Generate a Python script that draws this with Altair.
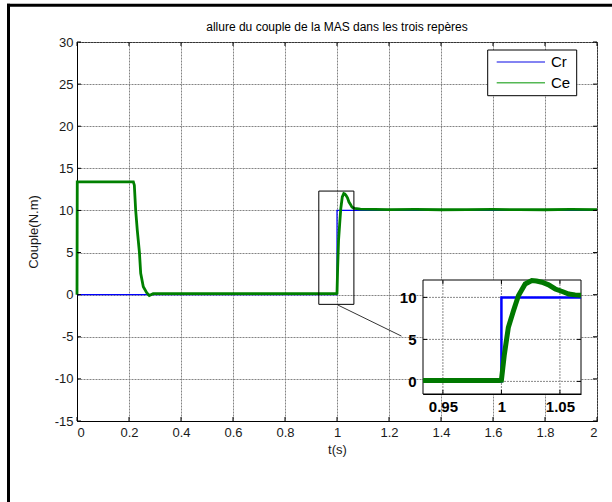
import altair as alt
import pandas as pd

# ---------------- data ----------------
t_cr = [0.0, 0.933, 1.0, 1.0, 1.068, 2.0]
v_cr = [0.0, 0.0, 0.0, 10.0, 10.0, 10.0]

t_ce = [0.0, 0.001, 0.1, 0.2167, 0.2205, 0.2256, 0.232, 0.24, 0.245, 0.255,
        0.268, 0.278, 0.293, 0.5, 0.8, 0.933, 0.998, 1.0, 1.0025, 1.0059,
        1.0103, 1.0145, 1.0203, 1.026, 1.030, 1.0346, 1.0403, 1.046, 1.052,
        1.0575, 1.063, 1.068, 1.09, 1.2, 1.3, 1.4, 1.5, 1.6, 1.7, 1.8, 1.9, 2.0]
v_ce = [0.0, 13.4, 13.4, 13.4, 13.0, 10.05, 7.6, 5.06, 2.53, 0.94,
        0.23, -0.1, 0.12, 0.12, 0.12, 0.12, 0.12, 0.15, 3.2, 6.4,
        8.4, 10.2, 11.6, 12.0, 11.95, 11.8, 11.5, 11.0, 10.7,
        10.4, 10.3, 10.25, 10.15, 10.1, 10.12, 10.08, 10.1, 10.12, 10.1, 10.08, 10.12, 10.1]

x_ticks = [0, 0.2, 0.4, 0.6, 0.8, 1.0, 1.2, 1.4, 1.6, 1.8, 2.0]
y_ticks = [-15, -10, -5, 0, 5, 10, 15, 20, 25, 30]
x_domain = [0, 2]
y_domain = [-15, 30]

inset_x_ticks = [0.95, 1.0, 1.05]
inset_y_ticks = [0, 5, 10]
inset_t = [0.933, 1.068]
inset_v = [-1.5, 12.07]

zoom_box_t = [0.93, 1.065]
zoom_box_v = [-1.15, 12.3]
connector_t = [1.004, 1.248]
connector_v = [-1.24, -4.92]

series_names = ["Cr", "Ce"]
legend_colors = ["#5a5aee", "#55b855"]

title_text = "allure du couple de la MAS dans les trois repères"
x_title = "t(s)"
y_title = "Couple(N.m)"

FONT = "Liberation Sans"
LABEL_EXPR = "toString(datum.value)"
W, H = 520, 379
IN_X0, IN_X1, IN_Y0, IN_Y1 = 346, 504, 352, 238   # inset pixel box inside the plot

# ---------------- tables ----------------
cr = pd.DataFrame({"t": t_cr, "v": v_cr, "i": range(len(t_cr))})
ce = pd.DataFrame({"t": t_ce, "v": v_ce, "i": range(len(t_ce))})
zoom_box = pd.DataFrame({"t": [zoom_box_t[0]], "t2": [zoom_box_t[1]],
                         "v": [zoom_box_v[0]], "v2": [zoom_box_v[1]]})
connector = pd.DataFrame({"t": connector_t, "v": connector_v})
inset_box = pd.DataFrame({"t": [inset_t[0]], "t2": [inset_t[1]],
                          "v": [inset_v[0]], "v2": [inset_v[1]]})
inset_vgrid = pd.DataFrame({"t": inset_x_ticks, "v": [inset_v[0]] * len(inset_x_ticks),
                            "v2": [inset_v[1]] * len(inset_x_ticks)})
inset_hgrid = pd.DataFrame({"v": inset_y_ticks, "t": [inset_t[0]] * len(inset_y_ticks),
                            "t2": [inset_t[1]] * len(inset_y_ticks)})
xt = pd.DataFrame({"t": x_ticks})
yt = pd.DataFrame({"v": y_ticks})
ixt = pd.DataFrame({"t": inset_x_ticks})
iyt = pd.DataFrame({"v": inset_y_ticks})
one = pd.DataFrame({"a": [0]})

# ---------------- main panel ----------------
main_x_axis = alt.Axis(values=x_ticks, labelExpr=LABEL_EXPR, title=x_title, grid=True,
                       orient="bottom", labelPadding=5, titlePadding=4)
main_y_axis = alt.Axis(values=y_ticks, labelExpr=LABEL_EXPR, title=y_title, grid=True,
                       orient="left", labelPadding=4, titlePadding=14)


def MX(field="t"):
    return alt.X(f"{field}:Q", scale=alt.Scale(domain=x_domain, nice=False, zero=False),
                 axis=main_x_axis)


def MY(field="v"):
    return alt.Y(f"{field}:Q", scale=alt.Scale(domain=y_domain, nice=False, zero=False),
                 axis=main_y_axis)


main_cr = alt.Chart(cr).mark_line(color="#0000ff", strokeWidth=1.2).encode(
    x=MX(), y=MY(), order="i:Q")
main_ce = alt.Chart(ce).mark_line(color="#008000", strokeWidth=2.8).encode(
    x=MX(), y=MY(), order="i:Q")
main_box = alt.Chart(zoom_box).mark_rect(fill=None, stroke="black", strokeWidth=1).encode(
    x=MX(), x2="t2", y=MY(), y2="v2")
main_conn = alt.Chart(connector).mark_line(color="black", strokeWidth=0.8).encode(
    x=MX(), y=MY())

# inward tick marks on the four sides (matlab box style)
tick_style = dict(color="black", strokeWidth=1)
main_ticks = [
    alt.Chart(xt).mark_rule(**tick_style).encode(x=MX(), y=alt.value(H), y2=alt.value(H - 4)),
    alt.Chart(xt).mark_rule(**tick_style).encode(x=MX(), y=alt.value(0), y2=alt.value(4)),
    alt.Chart(yt).mark_rule(**tick_style).encode(y=MY(), x=alt.value(0), x2=alt.value(4)),
    alt.Chart(yt).mark_rule(**tick_style).encode(y=MY(), x=alt.value(W), x2=alt.value(W - 4)),
]

# title as text centred over the plot
title_mark = alt.Chart(one).mark_text(
    text=title_text, font=FONT, fontSize=12, align="center", baseline="alphabetic",
    color="black").encode(x=alt.value(W / 2), y=alt.value(-11))

# outer figure frame: only its left and top edges fall inside the canvas
frame_left = alt.Chart(one).mark_rule(color="black", strokeWidth=3).encode(
    x=alt.value(-68.5), y=alt.value(-38.2), y2=alt.value(H + 81))
frame_top = alt.Chart(one).mark_rule(color="black", strokeWidth=3).encode(
    x=alt.value(-70), x2=alt.value(W + 15), y=alt.value(-36.7))

# legend (drawn by hand, matlab style)
legend_parts = [
    alt.Chart(one).mark_rect(fill="white", stroke="black", strokeWidth=1).encode(
        x=alt.value(410.7), x2=alt.value(499.7), y=alt.value(8), y2=alt.value(53.7))
]
for k, (name, col) in enumerate(zip(series_names, legend_colors)):
    yy = 20 + 20.7 * k
    legend_parts.append(alt.Chart(one).mark_rule(color=col, strokeWidth=1.5).encode(
        x=alt.value(419.7), x2=alt.value(468), y=alt.value(yy)))
    legend_parts.append(alt.Chart(one).mark_text(
        text=name, font=FONT, fontSize=15, align="left", baseline="middle", color="black").encode(
        x=alt.value(474), y=alt.value(yy)))

main = alt.layer(main_cr, main_ce, main_box, main_conn, *main_ticks, title_mark,
                 frame_left, frame_top, *legend_parts)

# ---------------- inset panel ----------------
inset_x_axis = alt.Axis(values=inset_x_ticks, labelExpr=LABEL_EXPR, title=None, grid=False,
                        ticks=False, domain=True, domainColor="black", orient="bottom",
                        offset=-(H - IN_Y0), labelFontWeight="bold", labelFontSize=15,
                        labelPadding=5, labelColor="black")
inset_y_axis = alt.Axis(values=inset_y_ticks, labelExpr=LABEL_EXPR, title=None, grid=False,
                        ticks=False, domain=True, domainColor="black", orient="left",
                        offset=-IN_X0, labelFontWeight="bold", labelFontSize=15, labelPadding=7,
                        labelColor="black")


def IX(field="t"):
    return alt.X(f"{field}:Q", scale=alt.Scale(domain=inset_t, range=[IN_X0, IN_X1],
                                                nice=False, zero=False), axis=inset_x_axis)


def IY(field="v"):
    return alt.Y(f"{field}:Q", scale=alt.Scale(domain=inset_v, range=[IN_Y0, IN_Y1],
                                                nice=False, zero=False), axis=inset_y_axis)


in_range = alt.FieldRangePredicate(field="t", range=inset_t)
inset_bg = alt.Chart(inset_box).mark_rect(fill="white", stroke="black", strokeWidth=1).encode(
    x=IX(), x2="t2", y=IY(), y2="v2")
inset_vg = alt.Chart(inset_vgrid).mark_rule(color="#888", strokeDash=[2, 1], strokeWidth=1).encode(
    x=IX(), y=IY(), y2="v2")
inset_hg = alt.Chart(inset_hgrid).mark_rule(color="#888", strokeDash=[2, 1], strokeWidth=1).encode(
    x=IX(), x2="t2", y=IY())
inset_ticks = [
    alt.Chart(ixt).mark_rule(**tick_style).encode(x=IX(), y=alt.value(IN_Y0), y2=alt.value(IN_Y0 - 4)),
    alt.Chart(ixt).mark_rule(**tick_style).encode(x=IX(), y=alt.value(IN_Y1), y2=alt.value(IN_Y1 + 4)),
    alt.Chart(iyt).mark_rule(**tick_style).encode(y=IY(), x=alt.value(IN_X0), x2=alt.value(IN_X0 + 4)),
    alt.Chart(iyt).mark_rule(**tick_style).encode(y=IY(), x=alt.value(IN_X1), x2=alt.value(IN_X1 - 4)),
]
inset_cr = alt.Chart(cr).transform_filter(in_range).mark_line(
    color="#0000ff", strokeWidth=2.5).encode(x=IX(), y=IY(), order="i:Q")
inset_ce = alt.Chart(ce).transform_filter(in_range).mark_line(
    color="#007800", strokeWidth=5).encode(x=IX(), y=IY(), order="i:Q")

inset = alt.layer(inset_bg, inset_vg, inset_hg, *inset_ticks, inset_cr, inset_ce)

chart = alt.layer(main, inset).resolve_scale(x="independent", y="independent").properties(
    width=W, height=H,
    padding={"left": 77, "top": 42, "right": 15, "bottom": 81},
    autosize=alt.AutoSizeParams(type="none"),
    background="white",
).configure_view(stroke="black", strokeWidth=1).configure_axis(
    labelFont=FONT, labelFontSize=13, labelColor="#1a1a1a",
    titleFont=FONT, titleFontSize=13, titleFontWeight="normal", titleColor="#1a1a1a",
    gridColor="#777", gridDash=[2, 1], gridOpacity=0.9, gridWidth=1,
    domainColor="black", ticks=False,
)

chart.save("out.html", embed_options={"renderer": "svg", "actions": False})
